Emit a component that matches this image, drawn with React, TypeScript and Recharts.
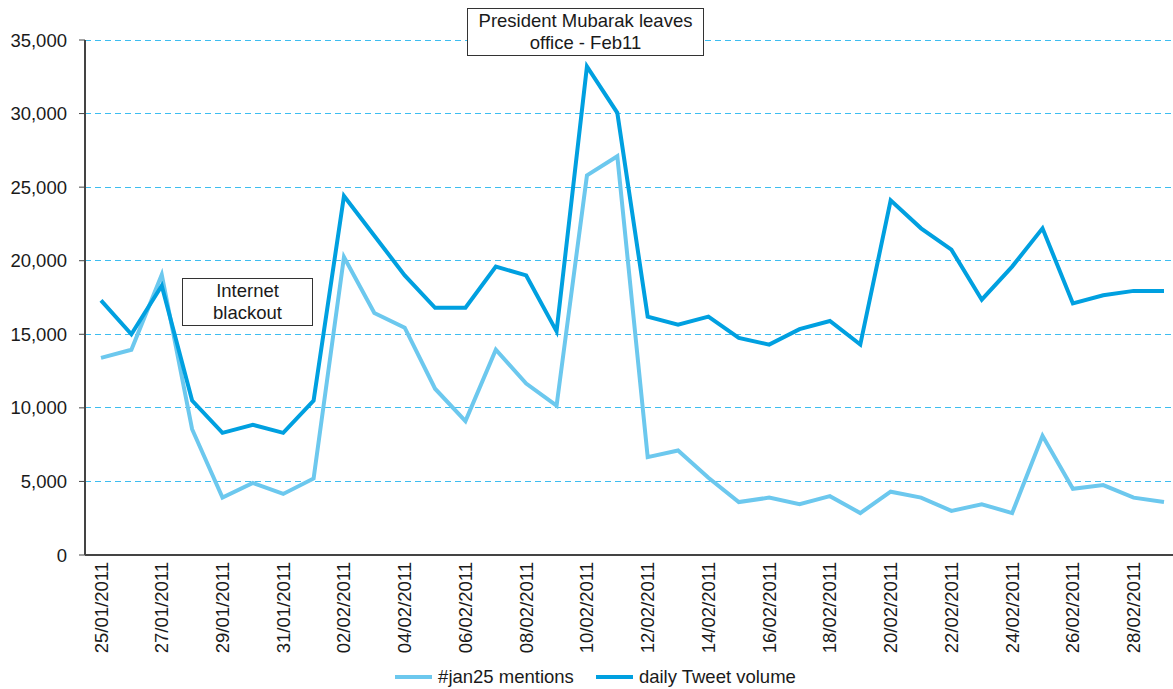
import React from "react";
import { LineChart, Line, XAxis, YAxis, CartesianGrid, Legend } from "recharts";

// Daily tweets during the Egyptian revolution, 25 Jan – 1 Mar 2011.
const dates = [
  "25/01/2011", "26/01/2011", "27/01/2011", "28/01/2011", "29/01/2011", "30/01/2011",
  "31/01/2011", "01/02/2011", "02/02/2011", "03/02/2011", "04/02/2011", "05/02/2011",
  "06/02/2011", "07/02/2011", "08/02/2011", "09/02/2011", "10/02/2011", "11/02/2011",
  "12/02/2011", "13/02/2011", "14/02/2011", "15/02/2011", "16/02/2011", "17/02/2011",
  "18/02/2011", "19/02/2011", "20/02/2011", "21/02/2011", "22/02/2011", "23/02/2011",
  "24/02/2011", "25/02/2011", "26/02/2011", "27/02/2011", "28/02/2011", "01/03/2011",
];

const jan25Mentions = [
  13400, 13950, 19050, 8550, 3900, 4900, 4150, 5200, 20250, 16450, 15450, 11300,
  9100, 13950, 11650, 10150, 25800, 27100, 6650, 7100, 5250, 3600, 3900, 3450,
  4000, 2850, 4300, 3900, 3000, 3450, 2850, 8100, 4500, 4750, 3900, 3600,
];

const dailyTweets = [
  17300, 15000, 18300, 10500, 8300, 8850, 8300, 10500, 24400, 21700, 19000, 16800,
  16800, 19600, 19000, 15200, 33200, 30050, 16200, 15650, 16200, 14750, 14300, 15350,
  15900, 14300, 24100, 22200, 20750, 17350, 19600, 22200, 17100, 17650, 17950, 17950,
];

const yTicks = [0, 5000, 10000, 15000, 20000, 25000, 30000, 35000];

const series = [
  { key: "mentions", label: "#jan25 mentions", color: "#6cc8ee" },
  { key: "tweets", label: "daily Tweet volume", color: "#00a0e0" },
];

const data = dates.map((d, i) => ({ date: d, mentions: jan25Mentions[i], tweets: dailyTweets[i] }));

const FONT = '"Liberation Sans", Arial, Helvetica, sans-serif';
const TEXT = "#1a1a1a";
const AXIS = "#444";

function DateTick({ x, y, payload }: any) {
  return (
    <text
      x={x}
      y={y}
      transform={`rotate(-90 ${x} ${y})`}
      textAnchor="end"
      dominantBaseline="central"
      fill={TEXT}
      fontSize={18.5}
      fontFamily={FONT}
    >
      {payload.value}
    </text>
  );
}

function LegendRow() {
  return (
    <div style={{ display: "flex", justifyContent: "center", alignItems: "center", gap: 22, fontFamily: FONT, fontSize: 18.5, color: TEXT }}>
      {series.map((s) => (
        <span key={s.key} style={{ display: "inline-flex", alignItems: "center", gap: 6 }}>
          <span style={{ display: "inline-block", width: 37, height: 4, background: s.color }} />
          {s.label}
        </span>
      ))}
    </div>
  );
}

const boxStyle: React.CSSProperties = {
  position: "absolute",
  boxSizing: "border-box",
  border: "1.5px solid #333",
  background: "#fff",
  fontFamily: FONT,
  fontSize: 18.5,
  lineHeight: "22px",
  color: TEXT,
  textAlign: "center",
  display: "flex",
  alignItems: "center",
  justifyContent: "center",
};

export default function App() {
  return (
    <div style={{ position: "absolute", left: 0, top: 0, width: 1173, height: 689, background: "#fff" }}>
      <LineChart width={1173} height={689} data={data} margin={{ top: 40, right: 0, bottom: 0, left: 0 }}>
        <CartesianGrid vertical={false} stroke="#3dbdf0" strokeDasharray="6 4" shapeRendering="crispEdges" />
        <XAxis
          dataKey="date"
          scale="point"
          padding={{ left: 16, right: 9 }}
          interval={1}
          height={112}
          tickLine={false}
          axisLine={{ stroke: AXIS, strokeWidth: 2 }}
          tick={<DateTick />}
          tickSize={4}
          tickMargin={3}
        />
        <YAxis
          width={85}
          domain={[0, 35000]}
          ticks={yTicks}
          tickFormatter={(v: number) => v.toLocaleString("en-US")}
          axisLine={{ stroke: AXIS, strokeWidth: 2 }}
          tickLine={{ stroke: AXIS }}
          tickSize={6}
          tickMargin={12}
          tick={{ fill: TEXT, fontSize: 18.5, fontFamily: FONT }}
        />
        <Legend content={<LegendRow />} wrapperStyle={{ left: 9, width: 1173, top: 666 }} />
        {series.map((s) => (
          <Line
            key={s.key}
            type="linear"
            dataKey={s.key}
            name={s.label}
            stroke={s.color}
            strokeWidth={4}
            dot={false}
            isAnimationActive={false}
          />
        ))}
      </LineChart>
      <div style={{ ...boxStyle, left: 182, top: 278, width: 131, height: 48 }}>
        Internet
        <br />
        blackout
      </div>
      <div style={{ ...boxStyle, left: 467, top: 8, width: 237, height: 48 }}>
        President Mubarak leaves
        <br />
        office - Feb11
      </div>
    </div>
  );
}
